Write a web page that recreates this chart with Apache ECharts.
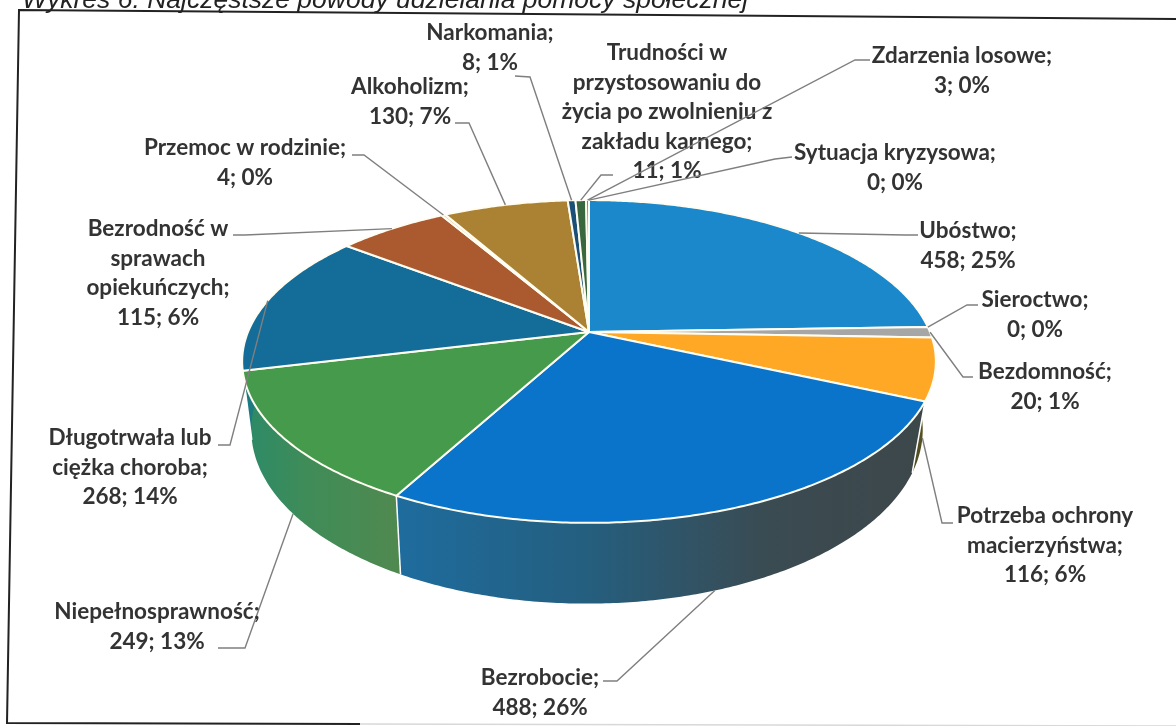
<!DOCTYPE html>
<html>
<head>
<meta charset="UTF-8">
<style>
  html, body { margin: 0; padding: 0; background: #fff; }
  #chart { width: 1176px; height: 726px; }
</style>
<script src="https://cdn.jsdelivr.net/npm/echarts@6/dist/echarts.min.js"></script>
</head>
<body>
<div id="chart"></div>
<script>
// dane z wykresu, kolejnosc zgodnie z ruchem wskazowek od gory
const categories = ['Ubóstwo', 'Sieroctwo', 'Bezdomność', 'Potrzeba ochrony macierzyństwa', 'Bezrobocie',
    'Niepełnosprawność', 'Długotrwała lub ciężka choroba', 'Bezrodność w sprawach opiekuńczych',
    'Przemoc w rodzinie', 'Alkoholizm', 'Narkomania',
    'Trudności w przystosowaniu do życia po zwolnieniu z zakładu karnego', 'Zdarzenia losowe', 'Sytuacja kryzysowa'];
const counts = [458, 0, 20, 116, 488, 249, 268, 115, 4, 130, 8, 11, 3, 0];
const percents = [25, 0, 1, 6, 26, 13, 14, 6, 0, 7, 1, 1, 0, 0];
const titleText = 'Wykres 6. Najczęstsze powody udzielania pomocy społecznej';

// podzial etykiet na linie
const labelLines = [
    ['Ubóstwo;'], ['Sieroctwo;'], ['Bezdomność;'], ['Potrzeba ochrony', 'macierzyństwa;'], ['Bezrobocie;'],
    ['Niepełnosprawność;'], ['Długotrwała lub', 'ciężka choroba;'], ['Bezrodność w', 'sprawach', 'opiekuńczych;'],
    ['Przemoc w rodzinie;'], ['Alkoholizm;'], ['Narkomania;'],
    ['Trudności w', 'przystosowaniu do', 'życia po zwolnieniu z', 'zakładu karnego;'], ['Zdarzenia losowe;'], ['Sytuacja kryzysowa;']
];
// srodek i gora kazdej etykiety
const labelPos = [[968, 216], [1035, 285], [1045, 357], [1045, 501], [540, 663], [157, 597], [130, 423], [158, 214],
    [245, 133], [410, 72], [490, 18], [667, 38], [962, 41], [895, 138]];
// odcinek przy etykiecie (koniec, lamanie)
const leaderEnds = [[[918, 235], [905, 235]], [[978, 305], [967, 305]], [[973, 377], [963, 377]], [[953, 523], [942, 523]],
    [[603, 681], [617, 681]], [[218, 648], [245, 648]], [[218, 445], [230, 445]], [[233, 235], [245, 235]],
    [[352, 155], [364, 155]], [[455, 123], [469, 123]], [[515, 76], [530, 77]], [[613, 175], [601, 175]],
    [[870, 60], [855, 60]], [[792, 157], [775, 159]]];

const topColors = ['#1a88cb', '#a6a6a6', '#a6a6a6', '#ffa825', '#0a74cb', '#459a4c', '#146c98', '#ab5a30',
    '#e8c080', '#ab8233', '#1c4f78', '#39683f', '#3f8f5a', '#8fc0e0'];

// rzut perspektywiczny tarczy
const CX = 589, CY = 332, A = 341, B = 156, P = 0.1827, DEPTH = 66, LOW_CX = 587, LOW_S = 0.968;
const total = counts.reduce(function (a, b) { return a + b; }, 0);
const starts = [];
counts.reduce(function (sum, v, i) { starts[i] = sum; return sum + v; }, 0);

function toAngle(v) {
    return v / total * Math.PI * 2;
}
function topPoint(ang) {
    const w = 1 + P * Math.cos(ang);
    return [CX + A * Math.sin(ang) / w, CY - B * Math.cos(ang) / w];
}
function lowPoint(ang) {
    const w = 1 + P * Math.cos(ang);
    return [LOW_CX + LOW_S * A * Math.sin(ang) / w, CY + (DEPTH - B * Math.cos(ang)) / w];
}
function arc(a1, a2, fn) {
    const pts = [];
    const n = Math.max(2, Math.ceil((a2 - a1) / 0.01));
    for (let i = 0; i <= n; i++) {
        pts.push(fn(a1 + (a2 - a1) * i / n));
    }
    return pts;
}
function wallFill(i) {
    if (i === 4) {
        return new echarts.graphic.LinearGradient(0, 0, 1, 0, [
            {offset: 0, color: '#1e6c9e'}, {offset: 0.35, color: '#245f80'},
            {offset: 0.7, color: '#3a4b52'}, {offset: 1, color: '#3d474a'}]);
    }
    if (i === 5) {
        return new echarts.graphic.LinearGradient(0, 0, 1, 0, [
            {offset: 0, color: '#2b8a68'}, {offset: 0.4, color: '#3f8c58'}, {offset: 1, color: '#50894f'}]);
    }
    if (i === 6) {
        return '#1d7a80';
    }
    if (i === 3) {
        return new echarts.graphic.LinearGradient(0, 0, 1, 0, [
            {offset: 0, color: '#4a4a20'}, {offset: 0.6, color: '#5c5420'}, {offset: 1, color: '#e8d040'}]);
    }
    return '#555';
}

function renderWall(params, api) {
    const i = params.dataIndex;
    const value = api.value(0);
    if (!value) {
        return {type: 'group', children: []};
    }
    const a1 = toAngle(starts[i]), a2 = toAngle(starts[i] + value);
    const pts = arc(a1, a2, topPoint).concat(arc(a1, a2, lowPoint).reverse());
    return {
        type: 'group',
        children: [{
            type: 'polygon',
            shape: {points: pts},
            style: {fill: wallFill(i)}
        }, {
            type: 'line',
            shape: {x1: topPoint(a1)[0], y1: topPoint(a1)[1], x2: lowPoint(a1)[0], y2: lowPoint(a1)[1]},
            style: {stroke: Math.cos(a1) < -0.2 ? '#fff' : 'transparent', lineWidth: 1.5}
        }]
    };
}

function renderTop(params, api) {
    const i = params.dataIndex;
    const value = api.value(0);
    if (!value) {
        return {type: 'group', children: []};
    }
    const a1 = toAngle(starts[i]), a2 = toAngle(starts[i] + value);
    return {
        type: 'polygon',
        shape: {points: [[CX, CY]].concat(arc(a1, a2, topPoint))},
        style: {fill: topColors[i], stroke: '#fffdf2', lineWidth: 2, lineJoin: 'round'}
    };
}

function renderLabel(params, api) {
    const i = params.dataIndex;
    const value = api.value(0);
    const mid = toAngle(starts[i] + value / 2);
    const anchor = Math.cos(mid) < -0.2 ? lowPoint(mid) : topPoint(mid);
    const ends = leaderEnds[i];
    return {
        type: 'group',
        children: [{
            type: 'polyline',
            shape: {points: [ends[0], ends[1], anchor]},
            style: {stroke: '#7f7f7f', lineWidth: 1.4, fill: 'none'}
        }, {
            type: 'text',
            style: {
                text: labelLines[i].concat(value + '; ' + percents[i] + '%').join('\n'),
                x: labelPos[i][0],
                y: labelPos[i][1],
                align: 'center',
                verticalAlign: 'top',
                lineHeight: 29.5,
                fontFamily: 'Lato',
                fontWeight: 'bold',
                fontSize: 22.5,
                fill: '#333'
            }
        }]
    };
}

const seriesData = counts.map(function (v, i) {
    return {name: categories[i], value: [v]};
});

const myChart = echarts.init(document.getElementById('chart'));
myChart.setOption({
    animation: false,
    backgroundColor: '#fff',
    title: {
        text: titleText,
        left: 17,
        top: -18,
        textStyle: {fontFamily: 'Liberation Sans', fontStyle: 'italic', fontWeight: 'normal', fontSize: 26.5, color: '#222'}
    },
    graphic: [{
        type: 'polyline',
        silent: true,
        shape: {points: [[1176, 19], [19, 10], [7, 723], [360, 724]]},
        style: {stroke: '#222', lineWidth: 2, fill: 'none'}
    }, {
        type: 'line',
        silent: true,
        shape: {x1: 360, y1: 724, x2: 1176, y2: 726},
        style: {stroke: '#d8d8d8', lineWidth: 1.5}
    }],
    series: [
        {type: 'custom', coordinateSystem: 'none', z: 2, renderItem: renderWall, data: seriesData},
        {type: 'custom', coordinateSystem: 'none', z: 3, renderItem: renderTop, data: seriesData},
        {type: 'custom', coordinateSystem: 'none', z: 4, renderItem: renderLabel, data: seriesData}
    ]
});
</script>
</body>
</html>
